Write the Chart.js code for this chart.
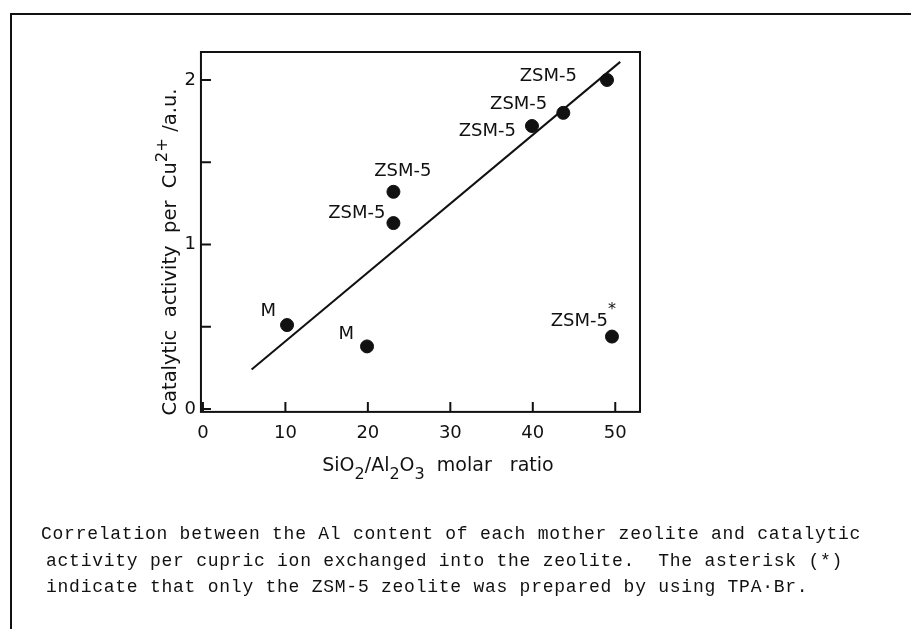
<!DOCTYPE html>
<html>
<head>
<meta charset="utf-8">
<script src="https://cdn.jsdelivr.net/npm/chart.js@4.4.0/dist/chart.umd.min.js"></script>
<style>
  html, body { margin: 0; padding: 0; background: #fff; }
  body { width: 911px; height: 629px; position: relative; overflow: hidden; }
  #frame { position: absolute; left: 10px; top: 13px; width: 905px; height: 620px;
           border-top: 2px solid #111; border-left: 2px solid #111; }
  #wrap { position: absolute; left: 0; top: 0; width: 911px; height: 629px; }
  #caption { position: absolute; left: 41px; top: 521px; font-family: "Liberation Mono", monospace;
             font-size: 18px; letter-spacing: 0.75px; line-height: 26.5px; white-space: pre; color: #111; }
  #caption .in { padding-left: 5px; }
</style>
</head>
<body>
<div id="frame"></div>
<div id="wrap"><canvas id="myChart"></canvas></div>
<div id="caption"><div>Correlation between the Al content of each mother zeolite and catalytic</div><div class="in">activity per cupric ion exchanged into the zeolite.  The asterisk (*)</div><div class="in">indicate that only the ZSM-5 zeolite was prepared by using TPA·Br.</div></div>

<script>
// data
const ratio    = [10.2, 19.9, 23.1, 23.1, 39.9, 43.7, 49.0, 49.6];
const activity = [0.51, 0.38, 1.13, 1.32, 1.72, 1.80, 2.00, 0.44];
const zeolite  = ['M', 'M', 'ZSM-5', 'ZSM-5', 'ZSM-5', 'ZSM-5', 'ZSM-5', 'ZSM-5*'];

// straight correlation line (end points)
const fitX = [5.9, 50.6];
const fitY = [0.24, 2.11];

const xTicks = [0, 10, 20, 30, 40, 50];
const yTicks = [0, 0.5, 1, 1.5, 2];
const yTickLabels = ['0', '', '1', '', '2'];

// where each label sits relative to its dot (right edge of text, middle)
const labelShift = [[-11, -14], [-13, -12], [-8, -10], [38, -20], [-16, 5], [-16, -9], [-30, -4], [-4, -15]];

const FONT = 'DejaVu Sans';
const ink = '#111';

const decor = {
  id: 'decor',
  afterDraw(chart) {
    const ctx = chart.ctx;
    const a = chart.chartArea;
    const xs = chart.scales.x, ys = chart.scales.y;
    ctx.save();
    ctx.strokeStyle = ink;
    ctx.fillStyle = ink;
    ctx.lineWidth = 2;
    // box
    ctx.strokeRect(a.left, a.top, a.right - a.left, a.bottom - a.top);
    // inner ticks
    ctx.beginPath();
    xs.ticks.forEach(t => {
      const px = xs.getPixelForValue(t.value);
      ctx.moveTo(px, a.bottom); ctx.lineTo(px, a.bottom - 10);
    });
    ys.ticks.forEach(t => {
      const py = ys.getPixelForValue(t.value);
      ctx.moveTo(a.left, py); ctx.lineTo(a.left + 10, py);
    });
    ctx.stroke();

    // point labels
    ctx.font = '18px "' + FONT + '"';
    ctx.textAlign = 'right';
    ctx.textBaseline = 'middle';
    zeolite.forEach((name, i) => {
      const px = xs.getPixelForValue(ratio[i]) + labelShift[i][0];
      const py = ys.getPixelForValue(activity[i]) + labelShift[i][1];
      if (name.endsWith('*')) {
        ctx.fillText(name.slice(0, -1), px, py);
        ctx.font = '16px "' + FONT + '"';
        ctx.textAlign = 'left';
        ctx.fillText('*', px, py - 12);
        ctx.font = '18px "' + FONT + '"';
        ctx.textAlign = 'right';
      } else {
        ctx.fillText(name, px, py);
      }
    });

    // axis titles with sub/superscripts
    const drawRich = (parts, x, y, size) => {
      ctx.textAlign = 'left';
      ctx.textBaseline = 'alphabetic';
      const sz = p => (p[1] ? size - 3 : size) + 'px "' + FONT + '"';
      let w = 0;
      parts.forEach(p => { ctx.font = sz(p); w += ctx.measureText(p[0]).width; });
      let cx = x - w / 2;
      parts.forEach(p => {
        ctx.font = sz(p);
        ctx.fillText(p[0], cx, y + (p[1] || 0));
        cx += ctx.measureText(p[0]).width;
      });
    };
    drawRich([['SiO'], ['2', 8], ['/Al'], ['2', 8], ['O'], ['3', 8], ['  molar   ratio']],
             a.left + 237, a.bottom + 59, 19);
    ctx.save();
    ctx.translate(a.left - 25, a.top + 200);
    ctx.rotate(-Math.PI / 2);
    drawRich([['Catalytic  activity  per  Cu'], ['2+', -9], [' /a.u.']], 0, 0, 19.5);
    ctx.restore();
    ctx.restore();
  }
};

new Chart(document.getElementById('myChart'), {
  type: 'scatter',
  data: {
    datasets: [{
      data: ratio.map((x, i) => ({ x: x, y: activity[i] })),
      backgroundColor: ink,
      borderColor: ink,
      pointRadius: 6.5,
      pointHoverRadius: 6.5
    }, {
      data: fitX.map((x, i) => ({ x: x, y: fitY[i] })),
      showLine: true,
      borderColor: ink,
      borderWidth: 2,
      pointRadius: 0
    }]
  },
  plugins: [decor],
  options: {
    responsive: true,
    maintainAspectRatio: false,
    animation: false,
    events: [],
    layout: { padding: { left: 179.5, top: 52, right: 271, bottom: 173.5 } },
    plugins: { legend: { display: false }, tooltip: { enabled: false } },
    scales: {
      x: {
        type: 'linear', min: -0.24, max: 53.0,
        afterBuildTicks: s => { s.ticks = xTicks.map(v => ({ value: v })); },
        ticks: { color: ink, font: { family: FONT, size: 18 }, padding: 11, maxRotation: 0, autoSkip: false },
        grid: { display: false, drawTicks: false },
        border: { display: false }
      },
      y: {
        type: 'linear', min: -0.018, max: 2.17,
        afterBuildTicks: s => { s.ticks = yTicks.map(v => ({ value: v })); },
        ticks: { color: ink, font: { family: FONT, size: 18 }, padding: 5, autoSkip: false,
                 callback: (v, i) => yTickLabels[i] },
        grid: { display: false, drawTicks: false },
        border: { display: false }
      }
    }
  }
});
</script>
</body>
</html>
